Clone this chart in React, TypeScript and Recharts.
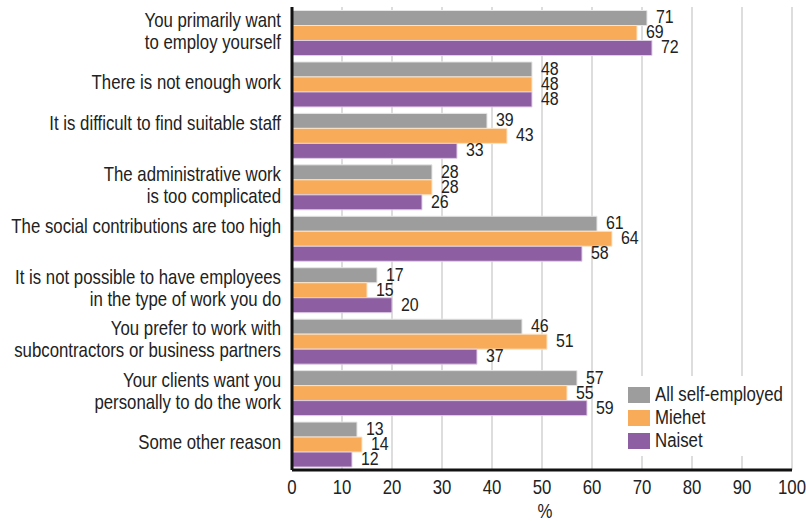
import { BarChart, Bar, XAxis, YAxis, CartesianGrid, LabelList } from 'recharts';

const reasons: string[][] = [
  ['You primarily want', 'to employ yourself'],
  ['There is not enough work'],
  ['It is difficult to find suitable staff', ''],
  ['The administrative work', 'is too complicated'],
  ['The social contributions are too high', ''],
  ['It is not possible to have employees', 'in the type of work you do'],
  ['You prefer to work with', 'subcontractors or business partners'],
  ['Your clients want you', 'personally to do the work'],
  ['Some other reason'],
];

const allSelfEmployed = [71, 48, 39, 28, 61, 17, 46, 57, 13];
const miehet = [69, 48, 43, 28, 64, 15, 51, 55, 14];
const naiset = [72, 48, 33, 26, 58, 20, 37, 59, 12];

const xTicks = [0, 10, 20, 30, 40, 50, 60, 70, 80, 90, 100];

const seriesNames = ['All self-employed', 'Miehet', 'Naiset'];
const seriesColors = ['#9d9d9d', '#f8ac59', '#8e5ea2'];

// no condensed face is installed, so squeeze Liberation Sans horizontally
const FONT = '"Liberation Sans", Arial, sans-serif';
const SQUEEZE = 0.84;

const data = reasons.map((_, i) => ({
  key: String(i),
  all: allSelfEmployed[i],
  men: miehet[i],
  women: naiset[i],
}));

function Narrow({ x, y, anchor, size, children }: { x: number; y: number; anchor: 'start' | 'middle' | 'end'; size: number; children: React.ReactNode }) {
  return (
    <g transform={`translate(${x},${y}) scale(${SQUEEZE},1)`}>
      <text x={0} y={0} textAnchor={anchor} dominantBaseline="central" fontFamily={FONT} fontSize={size} fill="#222">
        {children}
      </text>
    </g>
  );
}

function ReasonTick({ y, payload }: { y?: number; payload?: { value: string } }) {
  const lines = reasons[Number(payload?.value ?? 0)];
  const lh = 22;
  const start = (y ?? 0) - 2 - ((lines.length - 1) * lh) / 2;
  return (
    <g>
      {lines.map((l, i) => (
        <Narrow key={i} x={281} y={start + i * lh} anchor="end" size={20}>
          {l}
        </Narrow>
      ))}
    </g>
  );
}

function PercentTick({ x, y, payload }: { x?: number; y?: number; payload?: { value: number } }) {
  return (
    <Narrow x={x ?? 0} y={(y ?? 0) + 9} anchor="middle" size={20}>
      {payload?.value}
    </Narrow>
  );
}

function ValueLabel(props: any) {
  const x = Number(props.x) + Number(props.width) + 9;
  const y = Number(props.y) + Number(props.height) / 2 - 1;
  return (
    <Narrow x={x} y={y} anchor="start" size={19}>
      {props.value}
    </Narrow>
  );
}

function AxisTitle(props: any) {
  const vb = props.viewBox ?? {};
  return (
    <Narrow x={Number(vb.x) + Number(vb.width) / 2 + 3} y={511} anchor="middle" size={20}>
      %
    </Narrow>
  );
}

function ChartLegend() {
  return (
    <div
      style={{
        position: 'absolute',
        left: 622,
        top: 376,
        width: 162,
        height: 80,
        background: '#fff',
        fontFamily: FONT,
        fontSize: 20,
        color: '#222',
        padding: '7px 0 0 6px',
        boxSizing: 'border-box',
      }}
    >
      {seriesNames.map((name, i) => (
        <div key={name} style={{ display: 'flex', alignItems: 'center', height: 23, whiteSpace: 'nowrap' }}>
          <span style={{ display: 'inline-block', flexShrink: 0, width: 22, height: 16, background: seriesColors[i], marginRight: 5 }} />
          <span style={{ display: 'inline-block', flexShrink: 0, transform: `scaleX(${SQUEEZE})`, transformOrigin: 'left center' }}>
            {name}
          </span>
        </div>
      ))}
    </div>
  );
}

export default function App() {
  return (
    <div style={{ position: 'absolute', left: 0, top: 0, width: 806, height: 521, background: '#fff' }}>
      <BarChart
        width={806}
        height={521}
        data={data}
        layout="vertical"
        margin={{ top: 7, right: 14, bottom: 0, left: 0 }}
        barCategoryGap={3.5}
        barGap={0}
      >
        <CartesianGrid horizontal={false} stroke="#d2d2d2" strokeWidth={1.5} />
        <XAxis
          type="number"
          domain={[0, 100]}
          ticks={xTicks}
          interval={0}
          axisLine={{ stroke: '#111', strokeWidth: 3 }}
          tickLine={false}
          tick={<PercentTick />}
          height={51}
          label={<AxisTitle />}
        />
        <YAxis
          type="category"
          dataKey="key"
          width={292}
          axisLine={{ stroke: '#111', strokeWidth: 3 }}
          tickLine={false}
          tick={<ReasonTick />}
          interval={0}
        />
        <Bar dataKey="all" name={seriesNames[0]} fill={seriesColors[0]} stroke="#e6e6e6" strokeWidth={1} isAnimationActive={false}>
          <LabelList dataKey="all" content={<ValueLabel />} />
        </Bar>
        <Bar dataKey="men" name={seriesNames[1]} fill={seriesColors[1]} stroke="#fbe3c6" strokeWidth={1} isAnimationActive={false}>
          <LabelList dataKey="men" content={<ValueLabel />} />
        </Bar>
        <Bar dataKey="women" name={seriesNames[2]} fill={seriesColors[2]} stroke="#e0d0e6" strokeWidth={1} isAnimationActive={false}>
          <LabelList dataKey="women" content={<ValueLabel />} />
        </Bar>
      </BarChart>
      <ChartLegend />
    </div>
  );
}
